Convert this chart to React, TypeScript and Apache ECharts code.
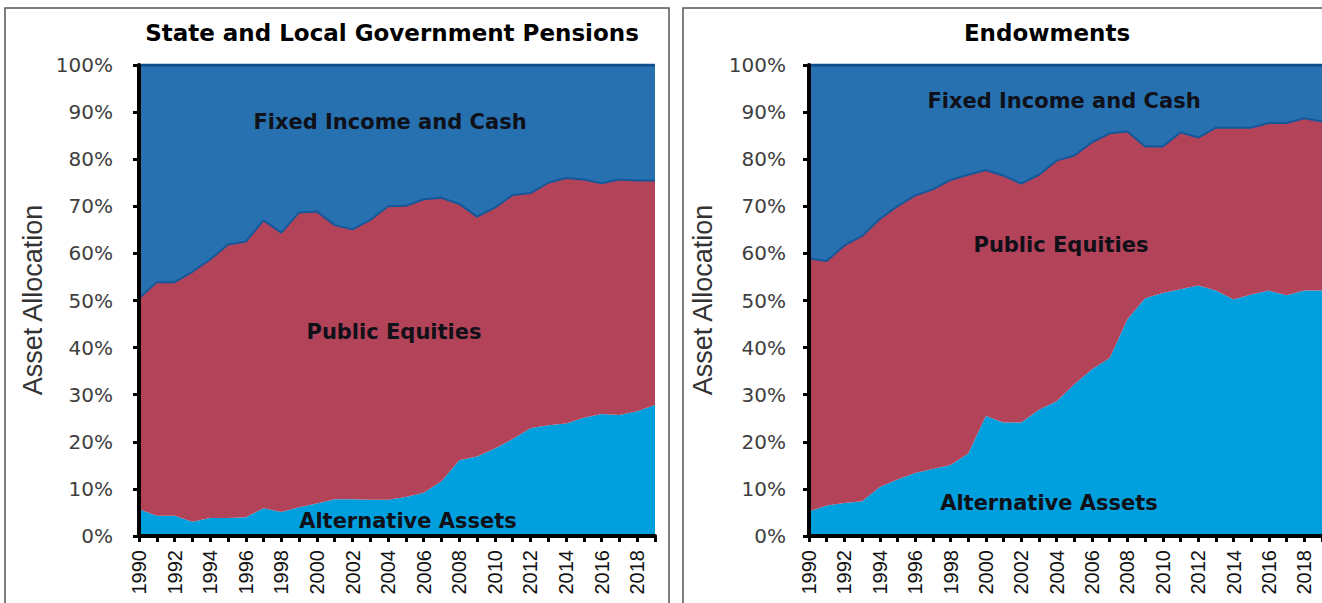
import React, { useEffect, useRef } from "react";
import * as echarts from "echarts";

const years = ["1990","1991","1992","1993","1994","1995","1996","1997","1998","1999","2000","2001","2002","2003","2004","2005","2006","2007","2008","2009","2010","2011","2012","2013","2014","2015","2016","2017","2018","2019"];

const pensionAlt = [5.7,4.3,4.3,3.0,3.8,3.8,4.0,5.9,5.1,6.1,6.9,7.8,7.8,7.7,7.7,8.3,9.2,11.6,16.1,16.9,18.6,20.6,22.9,23.5,23.9,25.1,25.9,25.7,26.5,27.8];
const pensionEquities = [44.8,49.6,49.6,53.1,54.9,58.1,58.5,61.1,59.3,62.6,62.0,58.2,57.3,59.4,62.3,61.8,62.3,60.2,54.4,50.9,51.1,51.8,49.9,51.5,52.1,50.6,49.0,50.0,49.0,47.7];
const pensionFixed = [49.5,46.1,46.1,43.9,41.3,38.1,37.5,33.0,35.6,31.3,31.1,34.0,34.9,32.9,30.0,29.9,28.5,28.2,29.5,32.2,30.3,27.6,27.2,25.0,24.0,24.3,25.1,24.3,24.5,24.5];

const endowAlt = [5.2,6.5,7.0,7.4,10.4,12.0,13.4,14.2,15.1,17.5,25.5,24.1,24.1,26.8,28.6,32.2,35.4,37.8,46.0,50.5,51.6,52.4,53.2,52.1,50.2,51.3,52.1,51.1,52.1,52.1];
const endowEquities = [53.7,51.9,54.7,56.3,56.9,58.0,58.9,59.4,60.5,59.2,52.2,52.4,50.7,49.9,51.1,48.6,48.2,47.7,39.9,32.2,31.1,33.3,31.4,34.6,36.5,35.4,35.6,36.6,36.6,35.9];
const endowFixed = [41.1,41.6,38.3,36.3,32.7,30.0,27.7,26.4,24.4,23.3,22.3,23.5,25.2,23.3,20.3,19.2,16.4,14.5,14.1,17.3,17.3,14.3,15.4,13.3,13.3,13.3,12.3,12.3,11.3,12.0];

const panelTitles = ["State and Local Government Pensions", "Endowments"];
const seriesNames = ["Alternative Assets", "Public Equities", "Fixed Income and Cash"];
const yAxisName = "Asset Allocation";

const COLORS = { alt: "#00A0DE", eq: "#B24359", fixed: "#2771B0", edge: "#15589A" };
const H_FONT = "DejaVu Sans";
const R_FONT = "Liberation Sans, Arial, sans-serif";

export default function App() {
  const ref = useRef<HTMLDivElement>(null);
  useEffect(() => {
    if (!ref.current) return;
    const chart = echarts.init(ref.current, undefined, { renderer: "svg" });

    const grids = [
      { left: 139, top: 65, width: 516, height: 471 },
      { left: 809, top: 65, width: 513, height: 471 },
    ];

    const xAxis = grids.map((_, i) => ({
      type: "category",
      gridIndex: i,
      data: years,
      boundaryGap: false,
      z: 10,
      axisLine: { lineStyle: { color: "#000", width: 4 } },
      axisTick: { show: true, interval: 0, length: 6, lineStyle: { color: "#000", width: 3 } },
      axisLabel: {
        interval: 1,
        rotate: 90,
        margin: 14,
        fontFamily: R_FONT,
        fontSize: 20,
        color: "#111",
      },
      splitLine: { show: false },
    }));

    const yAxis = grids.map((_, i) => ({
      type: "value",
      gridIndex: i,
      min: 0,
      max: 100,
      interval: 10,
      z: 10,
      axisLine: { show: true, lineStyle: { color: "#000", width: 4 } },
      axisTick: { show: true, length: 6, lineStyle: { color: "#000", width: 3 } },
      axisLabel: {
        formatter: "{value}%",
        margin: i === 0 ? 26 : 23,
        fontFamily: H_FONT,
        fontSize: 20,
        color: "#3e3e3e",
      },
      splitLine: { show: false },
    }));

    const mk = (gi: number, name: string, data: number[], color: string, line: number, lineColor: string) => ({
      type: "line",
      name,
      xAxisIndex: gi,
      yAxisIndex: gi,
      stack: "s" + gi,
      data,
      symbol: "none",
      z: 2,
      lineStyle: { width: line, color: lineColor },
      areaStyle: { color, opacity: 1 },
      itemStyle: { color },
      emphasis: { disabled: true },
    });

    const series = [
      mk(0, seriesNames[0], pensionAlt, COLORS.alt, 0, COLORS.alt),
      mk(0, seriesNames[1], pensionEquities, COLORS.eq, 2, COLORS.edge),
      mk(0, seriesNames[2], pensionFixed, COLORS.fixed, 3, "#0F4C8A"),
      mk(1, seriesNames[0], endowAlt, COLORS.alt, 0, COLORS.alt),
      mk(1, seriesNames[1], endowEquities, COLORS.eq, 2, COLORS.edge),
      mk(1, seriesNames[2], endowFixed, COLORS.fixed, 3, "#0F4C8A"),
    ];

    const areaLabel = (text: string, x: number, y: number) => ({
      type: "text",
      x,
      y,
      z: 100,
      style: {
        text,
        fill: "#101018",
        font: `bold 21px ${H_FONT}`,
        align: "center",
        verticalAlign: "middle",
      },
    });

    const titleText = (text: string, x: number) => ({
      type: "text",
      x,
      y: 33,
      z: 100,
      style: {
        text,
        fill: "#000",
        font: `bold 23px ${H_FONT}`,
        align: "center",
        verticalAlign: "middle",
      },
    });

    const axisName = (x: number) => ({
      type: "text",
      x,
      y: 300,
      rotation: Math.PI / 2,
      z: 100,
      style: {
        text: yAxisName,
        fill: "#333",
        font: `27px ${R_FONT}`,
        align: "center",
        verticalAlign: "middle",
      },
    });

    chart.setOption({
      animation: false,
      backgroundColor: "#fff",
      grid: grids,
      xAxis,
      yAxis,
      series,
      graphic: [
        { type: "rect", shape: { x: 5, y: 8, width: 664, height: 610 }, style: { fill: "none", stroke: "#555", lineWidth: 1.5 }, z: 0 },
        { type: "rect", shape: { x: 683, y: 8, width: 660, height: 610 }, style: { fill: "none", stroke: "#555", lineWidth: 1.5 }, z: 0 },
        titleText(panelTitles[0], 392),
        titleText(panelTitles[1], 1047),
        axisName(33),
        axisName(703),
        areaLabel(seriesNames[2], 390, 122),
        areaLabel(seriesNames[1], 394, 332),
        areaLabel(seriesNames[0], 408, 521),
        areaLabel(seriesNames[2], 1064, 101),
        areaLabel(seriesNames[1], 1061, 245),
        areaLabel(seriesNames[0], 1049, 503),
      ],
    });

    return () => chart.dispose();
  }, []);

  return (
    <div
      ref={ref}
      style={{ position: "fixed", left: 0, top: 0, width: 1322, height: 603 }}
    />
  );
}
